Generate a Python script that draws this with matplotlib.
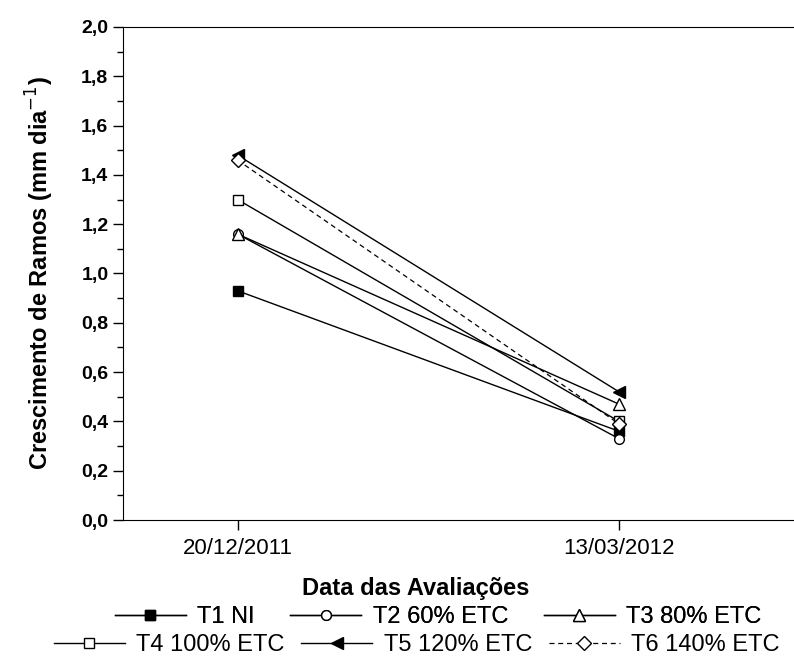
import matplotlib.pyplot as plt
from matplotlib.ticker import MultipleLocator, FuncFormatter

plt.rcParams['font.family'] = ['Liberation Sans', 'DejaVu Sans']

# dados
datas = ["20/12/2011", "13/03/2012"]
t1 = [0.93, 0.36]
t2 = [1.16, 0.33]
t3 = [1.16, 0.47]
t4 = [1.30, 0.40]
t5 = [1.48, 0.52]
t6 = [1.46, 0.39]
rotulos = ["T1 NI", "T2 60% ETC", "T3 80% ETC", "T4 100% ETC", "T5 120% ETC", "T6 140% ETC"]

x = [1, 2]

fig = plt.figure(figsize=(7.94, 6.57), dpi=100)
ax = fig.add_axes([0.155, 0.2085, 0.86, 0.7505])

estilo = dict(color="black", lw=1.0, markersize=7, markeredgewidth=1.0)
l1, = ax.plot(x, t1, marker="s", markerfacecolor="black", **estilo)
l2, = ax.plot(x, t2, marker="o", markerfacecolor="white", **estilo)
l3, = ax.plot(x, t3, marker="^", markerfacecolor="white", markersize=9, color="black", lw=1.0)
l4, = ax.plot(x, t4, marker="s", markerfacecolor="white", **estilo)
l5, = ax.plot(x, t5, marker="<", markerfacecolor="black", markersize=9, color="black", lw=1.0)
l6, = ax.plot(x, t6, marker="D", markerfacecolor="white", markersize=7, color="black",
              lw=0.9, dashes=(4, 3))

ax.set_xlim(0.70, 2.49)
ax.set_ylim(0, 2.0)
ax.set_xticks(x)
ax.set_xticklabels(datas, fontsize=16)
ax.yaxis.set_major_locator(MultipleLocator(0.2))
ax.yaxis.set_minor_locator(MultipleLocator(0.1))
ax.yaxis.set_major_formatter(FuncFormatter(lambda v, p: f"{v:.1f}".replace(".", ",")))
for t in ax.get_yticklabels():
    t.set_fontsize(14)
    t.set_fontweight("bold")

ax.tick_params(axis="both", direction="out", length=7, width=1, top=False, right=False)
ax.tick_params(axis="y", which="minor", direction="out", length=4, width=1)
ax.tick_params(axis="x", pad=6)

ax.set_ylabel("Crescimento de Ramos (mm dia$^{-1}$)", fontsize=17, fontweight="bold", labelpad=18)
ax.set_xlabel("Data das Avaliações", fontsize=17, fontweight="bold", va="top")
ax.xaxis.set_label_coords(0.429, -0.1155)

# legenda em duas linhas
comum = dict(ncol=3, loc="center", frameon=False, fontsize=17, handlelength=3.0,
             handletextpad=0.5, borderpad=0.0)
leg1 = fig.legend([l1, l2, l3], rotulos[:3], bbox_to_anchor=(0.552, 0.061),
                  columnspacing=1.5, **comum)
leg2 = fig.legend([l4, l5, l6], rotulos[3:], bbox_to_anchor=(0.525, 0.018),
                  columnspacing=0.7, **comum)
fig.add_artist(leg1)

fig.savefig("out.png", dpi=100)
